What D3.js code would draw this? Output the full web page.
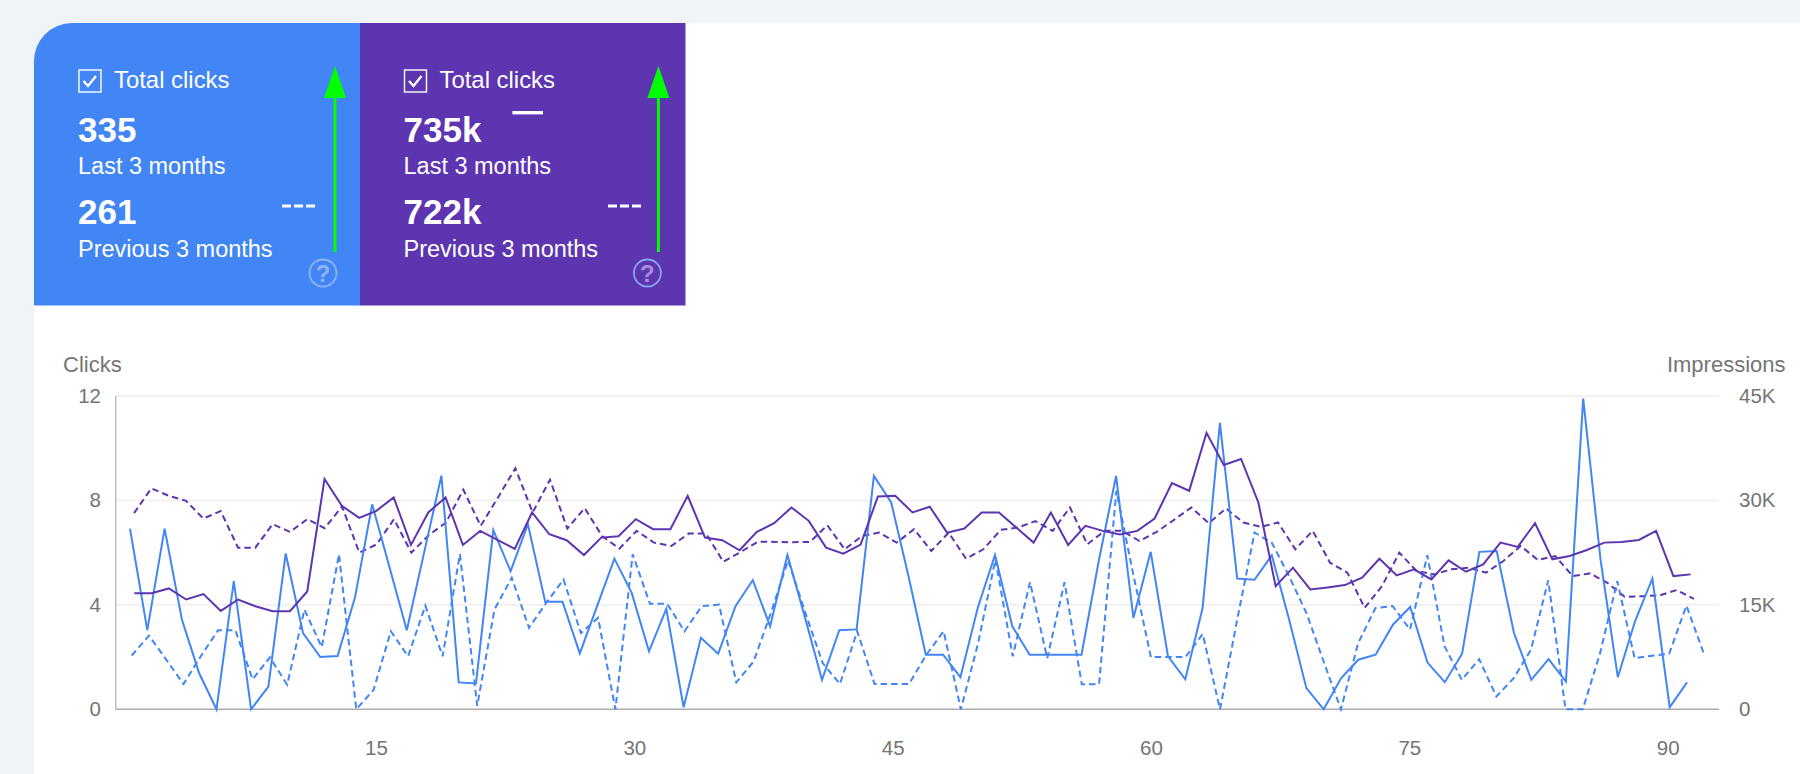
<!DOCTYPE html>
<html>
<head>
<meta charset="utf-8">
<script src="https://cdn.jsdelivr.net/npm/d3@7"></script>
<style>
  html, body { margin: 0; padding: 0; background: #f0f3f8; overflow: hidden; }
  svg { display: block; font-family: "Liberation Sans", Arial, sans-serif; }
  .axis text { fill: #757575; font-size: 20.5px; font-family: "Liberation Sans", Arial, sans-serif; }
  .axis-title { fill: #757575; font-size: 22px; }
  .label { fill: #fff; font-size: 23.5px; }
  .big { fill: #fff; font-size: 35px; font-weight: bold; }
</style>
</head>
<body>
<svg id="chart" width="1800" height="774"></svg>
<script>
// Values
const clicksCurrent = [6.92,3.03,6.92,3.44,1.38,0,4.91,0,0.87,5.97,2.92,2.0,2.04,4.27,7.85,5.44,3.03,6.0,8.95,1.03,0.99,6.86,5.29,7.09,4.12,4.12,2.14,3.95,5.77,4.46,2.22,3.85,0.08,2.74,2.13,3.95,4.95,3.18,5.91,3.56,1.13,3.03,3.06,8.94,7.92,5.1,2.09,2.09,1.23,3.88,5.91,3.18,2.09,2.09,2.09,2.09,5.69,8.94,3.5,6.03,2.03,1.15,3.88,10.97,5.01,4.96,5.9,3.44,0.81,0,1.19,1.9,2.09,3.24,3.92,1.79,1.04,2.13,6.03,6.06,2.92,1.13,1.92,1.06,11.9,5.74,1.23,3.38,5.01,0.08,1.03];
const clicksPrevious = [2.06,2.82,1.90,0.97,2.03,3.03,3.03,1.15,1.99,0.94,3.82,2.38,5.94,0,0.74,2.99,2.03,3.97,2.03,5.94,0.13,3.82,5.04,3.12,4.08,4.97,2.92,3.5,0,5.94,4.04,4.04,2.99,3.95,4.01,1.03,1.83,3.69,5.71,3.69,1.77,0.97,2.99,0.97,0.97,0.97,2.09,2.99,0,2.54,5.74,2.03,4.87,1.96,4.87,0.96,0.96,8.37,5.1,2,2,2,2.88,0,3.45,6.77,6.38,5.1,3.69,1.83,0,2.54,3.88,3.95,3.05,5.9,2.41,1.13,1.92,0.49,1.19,2.28,4.94,0,0,2.15,4.91,1.96,2.05,2.13,3.97,2.15];
const impressionsCurrent = [16.68,16.68,17.36,15.77,16.54,14.13,15.77,14.81,14.09,14.09,16.92,33.08,29.23,27.5,28.51,30.43,23.61,28.27,30.43,23.61,25.63,24.33,23.03,28.27,25.14,24.28,22.16,24.66,24.86,27.31,25.87,25.87,30.67,24.66,24.28,22.84,25.48,26.73,28.99,27.07,23.22,22.36,23.65,30.58,30.67,28.27,29.09,25.38,25.96,28.27,28.27,26.11,23.94,28.27,23.61,26.35,25.63,25.1,25.63,27.4,32.5,31.39,39.71,35.1,35.96,29.71,17.69,20.34,17.21,17.5,17.84,18.89,21.63,19.23,20.1,18.65,21.39,19.76,20.82,23.94,23.32,26.73,21.54,22.02,22.88,23.94,24.04,24.33,25.63,19.13,19.38];
const impressionsPrevious = [28.17,31.73,30.67,29.95,27.4,28.46,23.22,23.22,26.59,25.48,27.31,26.01,29.13,22.5,23.7,27.31,22.5,25.0,26.83,31.54,26.35,30.43,34.62,28.27,32.98,25.96,28.89,24.9,23.08,25.63,23.94,23.46,25.24,25.24,21.2,22.6,24.09,24.04,24.0,24.04,26.44,22.98,24.9,25.38,23.94,25.87,22.74,25.38,21.63,22.98,25.77,26.11,27.02,25.63,29.0,23.7,25.63,25.63,24.18,25.48,27.21,28.99,26.73,28.85,26.83,26.2,26.83,22.98,25.63,21.06,19.62,14.57,17.69,22.5,19.86,19.38,20.1,20.34,19.62,21.3,23.46,21.44,22.02,19.13,19.52,18.17,16.15,16.25,16.35,17.12,15.87];

const dayTicks = [15, 30, 45, 60, 75, 90];
const clickTicks = [0, 4, 8, 12];
const impressionTicks = [0, 15, 30, 45];

const panelTitles = ['Total clicks', 'Total clicks'];
const panelCurrent = ['335', '735k'];
const panelPrevious = ['261', '722k'];

const blue = '#4285f4';
const purple = '#5e35b1';
const green = '#00ff00';

const svg = d3.select('#chart');

// White page area, only the top left corner is rounded
svg.append('path')
  .attr('d', 'M34,774V61A38,38 0 0 1 72,23H1800V774Z')
  .attr('fill', '#fff');

/*
 * SUMMARY PANELS
 */
const panels = [
  { x: 34, w: 326, fill: blue, icon: '#8eb5f9', mark: '#8eb5f9' },
  { x: 360, w: 325.5, fill: purple, icon: '#82a6f3', mark: '#a78bdc' }
];

panels.forEach((p, i) => {
  const g = svg.append('g').attr('transform', `translate(${p.x},23)`);
  const d = i === 0
    ? `M0,282.5V38A38,38 0 0 1 38,0H${p.w}V282.5Z`
    : `M0,0H${p.w}V282.5H0Z`;
  g.append('path').attr('d', d).attr('fill', p.fill);

  const tx = i === 0 ? 44 : 43.5;

  // checkbox
  g.append('rect').attr('x', tx + 1).attr('y', 47).attr('width', 22).attr('height', 22)
    .attr('fill', 'none').attr('stroke', '#fff').attr('stroke-width', 1.4);
  g.append('path').attr('d', `M${tx + 5.5},58l4.5,5l8,-10`)
    .attr('fill', 'none').attr('stroke', '#fff').attr('stroke-width', 2.4);

  g.append('text').attr('class', 'label').attr('x', tx + 36).attr('y', 65)
    .style('font-size', '23.9px').text(panelTitles[i]);
  g.append('text').attr('class', 'big').attr('x', tx).attr('y', 118.7).text(panelCurrent[i]);
  g.append('text').attr('class', 'label').attr('x', tx).attr('y', 151).text('Last 3 months');
  g.append('text').attr('class', 'big').attr('x', tx).attr('y', 201).text(panelPrevious[i]);
  g.append('text').attr('class', 'label').attr('x', tx).attr('y', 233.7).text('Previous 3 months');

  // dashed legend sample
  g.append('line').attr('x1', 248).attr('x2', 281).attr('y1', 183).attr('y2', 183)
    .attr('stroke', '#fff').attr('stroke-width', 3).attr('stroke-dasharray', '9,3');
  // solid legend sample, only on the purple panel
  if (i === 1) {
    g.append('line').attr('x1', 152.4).attr('x2', 183).attr('y1', 89.7).attr('y2', 89.7)
      .attr('stroke', '#fff').attr('stroke-width', 3.4);
  }

  // green arrow
  const ax = i === 0 ? 301 : 298.4;
  g.append('line').attr('x1', ax).attr('x2', ax).attr('y1', 229).attr('y2', 70)
    .attr('stroke', green).attr('stroke-width', 3);
  g.append('path').attr('d', `M${ax},43L${ax + 11},75H${ax - 11}Z`).attr('fill', green);

  // help icon
  const hx = i === 0 ? 289 : 287.4;
  g.append('circle').attr('cx', hx).attr('cy', 250).attr('r', 13.5)
    .attr('fill', 'none').attr('stroke', p.icon).attr('stroke-width', 1.8);
  g.append('text').attr('x', hx).attr('y', 258.5).attr('text-anchor', 'middle')
    .attr('fill', p.mark).style('font-size', '24px').style('font-weight', 'bold').text('?');
});

/*
 * CHART
 */
const plot = { left: 115.7, right: 1719, top: 396, bottom: 709.3 };

const x = d3.scaleLinear().domain([15, 90]).range([376, 1667.7]);
const yClicks = d3.scaleLinear().domain([0, 12]).range([plot.bottom, plot.top]);
const yImpressions = d3.scaleLinear().domain([0, 45]).range([plot.bottom, plot.top]);

// Horizontal grid
svg.append('g').selectAll('line')
  .data(clickTicks.filter(d => d > 0))
  .join('line')
  .attr('x1', plot.left).attr('x2', plot.right)
  .attr('y1', d => yClicks(d)).attr('y2', d => yClicks(d))
  .attr('stroke', '#f1f1f1').attr('stroke-width', 2);

// Axis lines
svg.append('line').attr('x1', plot.left).attr('x2', plot.left)
  .attr('y1', plot.top).attr('y2', plot.bottom)
  .attr('stroke', '#bdbdbd').attr('stroke-width', 1.5);
svg.append('line').attr('x1', plot.left).attr('x2', plot.right)
  .attr('y1', plot.bottom).attr('y2', plot.bottom)
  .attr('stroke', '#ababab').attr('stroke-width', 1.6);

const leftAxis = d3.axisLeft(yClicks).tickValues(clickTicks).tickSize(0).tickPadding(0);
svg.append('g').attr('class', 'axis').attr('transform', 'translate(101,0)')
  .call(leftAxis).call(g => g.select('.domain').remove());

const rightAxis = d3.axisRight(yImpressions).tickValues(impressionTicks).tickSize(0).tickPadding(0)
  .tickFormat(d => d ? d + 'K' : '0');
svg.append('g').attr('class', 'axis').attr('transform', 'translate(1739,0)')
  .call(rightAxis).call(g => g.select('.domain').remove());

const bottomAxis = d3.axisBottom(x).tickValues(dayTicks).tickSize(0).tickPadding(0);
svg.append('g').attr('class', 'axis').attr('transform', 'translate(0,740)')
  .call(bottomAxis).call(g => g.select('.domain').remove());

svg.append('text').attr('class', 'axis-title').attr('x', 63).attr('y', 372).text('Clicks');
svg.append('text').attr('class', 'axis-title').attr('x', 1785.5).attr('y', 372)
  .attr('text-anchor', 'end').text('Impressions');

// Each traced line runs over its own horizontal span
const series = [
  { values: impressionsPrevious, y: yImpressions, color: purple, dash: '6.5,4', from: 134, to: 1694 },
  { values: clicksPrevious, y: yClicks, color: blue, dash: '6.5,4', from: 131.7, to: 1703.7 },
  { values: clicksCurrent, y: yClicks, color: blue, dash: null, from: 130, to: 1687 },
  { values: impressionsCurrent, y: yImpressions, color: purple, dash: null, from: 134.3, to: 1690.7 }
];

series.forEach(s => {
  const sx = d3.scaleLinear().domain([0, s.values.length - 1]).range([s.from, s.to]);
  const line = d3.line().x((d, i) => sx(i)).y(d => s.y(d));
  svg.append('path')
    .datum(s.values)
    .attr('d', line)
    .attr('fill', 'none')
    .attr('stroke', s.color)
    .attr('stroke-width', 2)
    .attr('stroke-linejoin', 'miter')
    .attr('stroke-dasharray', s.dash);
});
</script>
</body>
</html>
